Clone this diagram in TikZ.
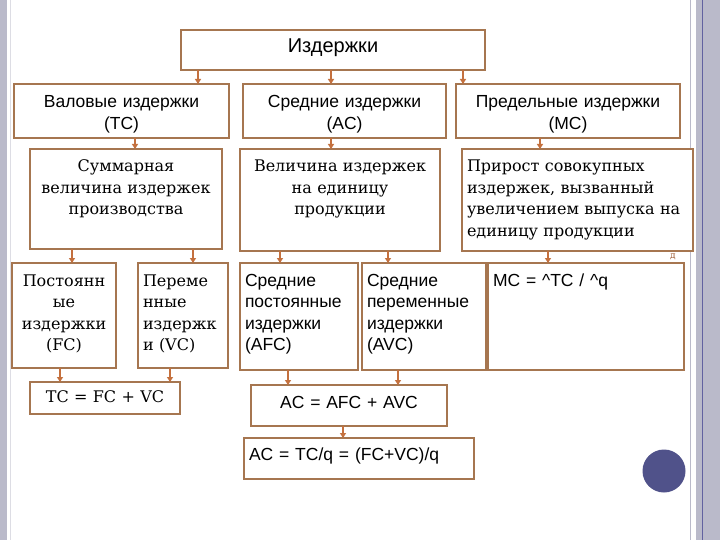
\documentclass[tikz,border=0pt]{standalone}
\usepackage{fontspec}
\setmainfont{DejaVu Serif}
\setsansfont{Liberation Sans}
\usetikzlibrary{arrows.meta}

\definecolor{boxbrown}{RGB}{166,118,80}
\definecolor{arrowbrown}{RGB}{196,112,62}
\definecolor{framegrey}{RGB}{186,186,202}
\definecolor{frameline}{RGB}{98,98,160}
\definecolor{dotblue}{RGB}{80,82,138}

\begin{document}
\begin{tikzpicture}[
        x=1pt, y=-1pt,
        costbox/.style={rectangle, draw=boxbrown, line width=2.2pt, fill=white, anchor=north, outer sep=0pt, inner xsep=5pt, inner ysep=0pt},
        sansbox/.style={costbox, font=\sffamily\fontsize{17.5}{21.5}\selectfont},
        serifbox/.style={costbox, font=\fontsize{16}{21.5}\selectfont},
        boxsize/.style n args={3}{text width=#1, text height=#2, text depth=#3},
        arrow/.style={-{Triangle[length=5pt,width=6pt]}, draw=arrowbrown, line width=1.2pt}
        ]

        % slide frame
        \fill[white] (0,0) rectangle (720,540);
        \useasboundingbox (0,0) rectangle (720,540);
        \fill[framegrey] (0,0) rectangle (7,540);
        \draw[framegrey!50, line width=1pt] (10,0) -- (10,540);
        \draw[framegrey, line width=1.5pt] (690.5,0) -- (690.5,540);
        \fill[framegrey] (696,0) rectangle (720,540);
        \draw[frameline, line width=1pt] (702.5,0) -- (702.5,540);

        % top level
        \node[sansbox, boxsize={294pt}{23pt}{17pt}, align=center, font=\sffamily\fontsize{20}{24}\selectfont] (cost) at (333,30) {Издержки};

        % kinds of costs
        \node[sansbox, boxsize={205pt}{24pt}{30pt}, align=center] (gross) at (121.5,84) {Валовые издержки\\(TC)};
        \node[sansbox, boxsize={193pt}{24pt}{30pt}, align=center] (avg) at (344.5,84) {Средние издержки\\(AC)};
        \node[sansbox, boxsize={214pt}{24pt}{30pt}, align=center] (marg) at (568,84) {Предельные издержки\\(MC)};

        % definitions
        \node[serifbox, boxsize={182pt}{23pt}{77pt}, align=center] (sum) at (126,149) {Суммарная\\величина издержек\\производства};
        \node[serifbox, boxsize={190pt}{23pt}{79pt}, align=center] (unit) at (340,149) {Величина издержек\\на единицу\\продукции};
        \node[serifbox, boxsize={221pt}{23pt}{79pt}, align=left] (incr) at (577.5,149) {Прирост совокупных\\издержек, вызванный\\увеличением выпуска на\\единицу продукции};

        % components
        \node[serifbox, boxsize={94pt}{23pt}{82pt}, align=center] (fixed) at (64,263) {Постоянн\\ые\\издержки\\(FC)};
        \node[serifbox, boxsize={80pt}{23pt}{82pt}, align=left] (var) at (183,263) {Переме\\нные\\издержк\\и (VC)};
        \node[sansbox, boxsize={108pt}{23pt}{84pt}, align=left] (afc) at (299,263) {Средние\\постоянные\\издержки\\(AFC)};
        \node[sansbox, boxsize={114pt}{23pt}{84pt}, align=left] (avc) at (424,263) {Средние\\переменные\\издержки\\(AVC)};
        \node[sansbox, boxsize={186pt}{23pt}{84pt}, align=left] (mcf) at (586,263) {MC = \^{}TC / \^{}q};

        % formulas
        \node[serifbox, boxsize={140pt}{20pt}{12pt}, align=center] (tcf) at (105,382) {TC = FC + VC};
        \node[sansbox, boxsize={186pt}{23pt}{18pt}, align=center] (acf) at (349,385) {AC = AFC + AVC};
        \node[sansbox, boxsize={220pt}{22pt}{19pt}, align=left] (act) at (359,438) {AC = TC/q = (FC+VC)/q};

        % decoration
        \node[circle, fill=dotblue, minimum size=43pt, inner sep=0pt] (dot) at (664,471) {};
        \node[font=\fontsize{9}{9}\selectfont, text=arrowbrown!80!black, inner sep=0pt] (stray) at (673,257) {д};

        % links
        \foreach \from/\to/\x in {cost/gross/198, cost/avg/331, cost/marg/463,
                gross/sum/135, avg/unit/331, marg/incr/540,
                sum/fixed/72, sum/var/193, unit/afc/280, unit/avc/388, incr/mcf/548,
                fixed/tcf/60, var/tcf/170, afc/acf/288, avc/acf/398, acf/act/343}
            \draw[arrow] (\from.south -| \x,0) -- (\to.north -| \x,0);

    \end{tikzpicture}
\end{document}
